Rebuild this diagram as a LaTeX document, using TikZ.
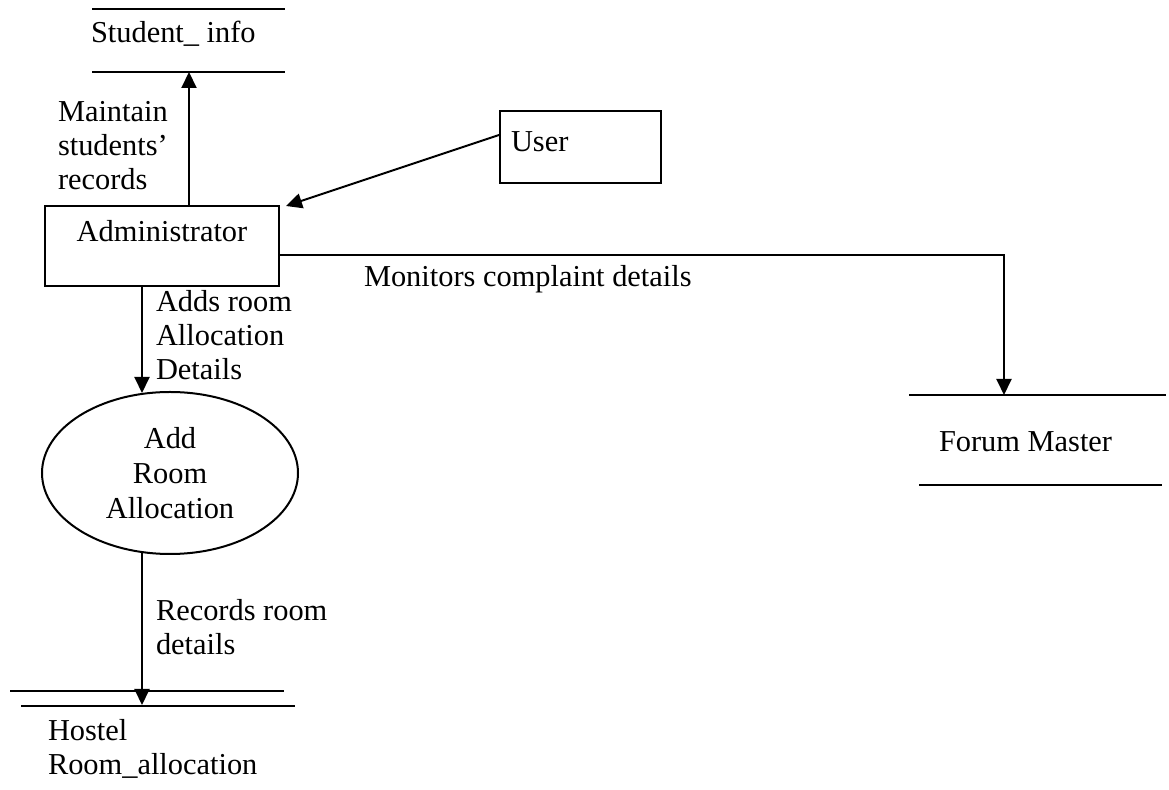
\documentclass[tikz,border=0pt]{standalone}
\usepackage{fontspec}
\setmainfont{Liberation Serif}
\usetikzlibrary{arrows.meta,shapes.geometric}
\begin{document}
\begin{tikzpicture}[x=0.5pt,y=-0.5pt,line width=1pt,
  txt/.style={inner sep=0pt,align=left,anchor=base west,font=\fontsize{15.2}{17.2}\selectfont},
  boxnode/.style={draw,inner sep=0pt,font=\fontsize{15.2}{17.2}\selectfont},
  arr/.style={-{Triangle[length=8pt,width=7.5pt]}}]
\useasboundingbox (0,0) rectangle (1169,790);
% data stores
\coordinate (si1) at (92,9);  \coordinate (si2) at (285,9);
\coordinate (si3) at (92,72); \coordinate (si4) at (285,72);
\draw (si1) -- (si2); \draw (si3) -- (si4);
\node[txt] (si) at (90,43) {Student\_ info};
\coordinate (fm1) at (909,395); \coordinate (fm2) at (1166,395);
\coordinate (fm3) at (919,485); \coordinate (fm4) at (1162,485);
\draw (fm1) -- (fm2); \draw (fm3) -- (fm4);
\node[txt] (fm) at (938,452) {Forum Master};
\coordinate (hr1) at (10,691); \coordinate (hr2) at (284,691);
\coordinate (hr3) at (21,706); \coordinate (hr4) at (295,706);
\draw (hr1) -- (hr2); \draw (hr3) -- (hr4);
\node[txt] (hr) at (47,775) {Hostel\\Room\_allocation};
% entities
\node[boxnode,minimum width=117pt,minimum height=40pt,text height=18pt,text depth=22pt] (admin) at (162,246) {Administrator};
\node[boxnode,minimum width=80.5pt,minimum height=36pt,text width=69.5pt,inner xsep=5.5pt,align=left,text height=20.5pt,text depth=15.5pt] (user) at (580.5,147) {User};
% process
\node[draw,ellipse,inner sep=0pt,minimum width=128pt,minimum height=81pt,align=center,font=\fontsize{15.2}{17.5}\selectfont] (proc) at (170,473) {Add\\Room\\Allocation};
% helper coordinates
\coordinate (sit) at (189,72);
\coordinate (adx) at (142,0);
\coordinate (fmt) at (1004,395);
\coordinate (hrt) at (142,705);
% connectors
\draw[arr] (admin.north -| sit) -- (sit);
\draw[arr] ([yshift=6pt]user.west) -- ([xshift=3pt,yshift=-0.5pt]admin.north east);
\draw[arr] ([yshift=-4.5pt]admin.east) -| (fmt);
\draw[arr] (admin.south -| adx) -- ([yshift=-1pt]proc.north -| adx);
\draw[arr] ([yshift=1pt]proc.south -| adx) -- (hrt);
% labels
\node[txt] (l1) at (57,190) {Maintain\\students'\\records};
\node[txt] (l2) at (363,287) {Monitors complaint details};
\node[txt] (l3) at (155,380) {Adds room\\Allocation\\Details};
\node[txt] (l4) at (155,655) {Records room\\details};
\end{tikzpicture}
\end{document}
